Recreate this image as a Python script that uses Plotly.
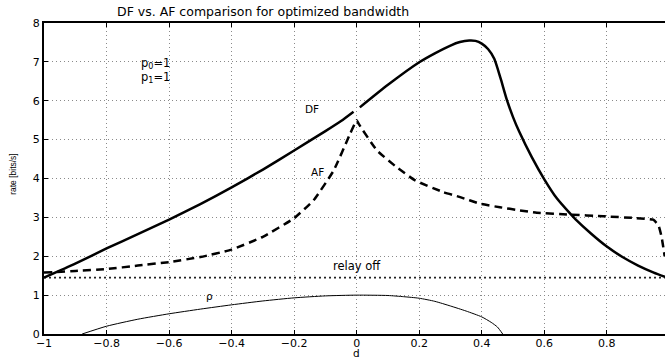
import plotly.graph_objects as go

# ---- data ----
df_left_d = [-1.0, -0.9, -0.8, -0.7, -0.6, -0.5, -0.4, -0.3, -0.2, -0.1, -0.05, -0.01]
df_left_r = [1.45, 1.81, 2.2, 2.57, 2.94, 3.34, 3.77, 4.23, 4.72, 5.22, 5.48, 5.72]

df_right_d = [0.01, 0.1, 0.2, 0.25, 0.3, 0.33, 0.36, 0.38, 0.40, 0.42, 0.44, 0.46, 0.48,
              0.50, 0.52, 0.56, 0.60, 0.64, 0.68, 0.70, 0.75, 0.80, 0.85, 0.90, 0.95, 0.986]
df_right_r = [5.83, 6.41, 6.99, 7.22, 7.42, 7.51, 7.55, 7.54, 7.47, 7.33, 7.08, 6.58, 6.03,
              5.58, 5.20, 4.55, 3.98, 3.49, 3.12, 2.95, 2.58, 2.25, 1.98, 1.76, 1.58, 1.47]

af_d = [-1.0, -0.9, -0.8, -0.7, -0.6, -0.5, -0.4, -0.3, -0.2, -0.138, -0.074, -0.021, 0.0,
        0.006, 0.065, 0.128, 0.187, 0.277, 0.331, 0.395, 0.458, 0.522, 0.576, 0.682,
        0.788, 0.895, 0.948, 0.965, 0.975, 0.985]
af_r = [1.58, 1.62, 1.67, 1.76, 1.85, 1.98, 2.17, 2.5, 2.98, 3.44, 4.2, 5.15, 5.5,
        5.41, 4.72, 4.29, 3.95, 3.65, 3.52, 3.35, 3.26, 3.18, 3.12, 3.07,
        3.03, 2.98, 2.94, 2.8, 2.5, 2.0]

rho_d = [-0.878, -0.8, -0.7, -0.6, -0.5, -0.4, -0.3, -0.2, -0.1, 0.0, 0.1, 0.15, 0.2, 0.25,
         0.3, 0.35, 0.4, 0.43, 0.45, 0.467]
rho_v = [0.0, 0.2, 0.38, 0.52, 0.64, 0.75, 0.85, 0.93, 0.98, 1.0, 0.99, 0.96, 0.92, 0.84,
         0.72, 0.59, 0.44, 0.30, 0.18, 0.0]

relay_off = 1.45
relay_d = [-1.0, 0.986]

x_ticks = [-1, -0.8, -0.6, -0.4, -0.2, 0, 0.2, 0.4, 0.6, 0.8]
y_ticks = [0, 1, 2, 3, 4, 5, 6, 7, 8]

FONT = "DejaVu Sans"

fig = go.Figure()
fig.add_trace(go.Scatter(x=relay_d, y=[relay_off] * len(relay_d), mode="lines",
                         line=dict(color="#222222", width=1.6, dash="2px,3px"), hoverinfo="skip"))
fig.add_trace(go.Scatter(x=rho_d, y=rho_v, mode="lines",
                         line=dict(color="black", width=1, shape="spline", smoothing=0.6)))
fig.add_trace(go.Scatter(x=af_d, y=af_r, mode="lines",
                         line=dict(color="black", width=2.5, dash="8px,5px", shape="spline", smoothing=0.4)))
fig.add_trace(go.Scatter(x=df_left_d, y=df_left_r, mode="lines",
                         line=dict(color="black", width=2.5, shape="spline", smoothing=0.5)))
fig.add_trace(go.Scatter(x=df_right_d, y=df_right_r, mode="lines",
                         line=dict(color="black", width=2.5, shape="spline", smoothing=0.6)))

ann = dict(showarrow=False, font=dict(family=FONT, size=10.5, color="black"), xref="x", yref="y")
fig.add_annotation(x=-0.144, y=5.8, text="DF", **ann)
fig.add_annotation(x=-0.125, y=4.18, text="AF", **ann)
fig.add_annotation(x=0.0, y=1.74, text="relay off", showarrow=False, xref="x", yref="y",
                   font=dict(family=FONT, size=11.5, color="black"))
fig.add_annotation(x=-0.47, y=0.97, text="ρ", **ann)
fig.add_annotation(x=-0.695, y=6.97, text="p<sub>0</sub>=1", xanchor="left",
                   showarrow=False, font=dict(family=FONT, size=11.5, color="black"))
fig.add_annotation(x=-0.695, y=6.6, text="p<sub>1</sub>=1", xanchor="left",
                   showarrow=False, font=dict(family=FONT, size=11.5, color="black"))
fig.add_annotation(x=-0.3, y=1, xref="x", yref="paper", yanchor="bottom", yshift=2,
                   text="DF vs. AF comparison for optimized bandwidth", showarrow=False,
                   font=dict(family=FONT, size=12.5, color="black"))
fig.add_annotation(x=0, y=0, xref="x", yref="paper", yanchor="top", yshift=-11,
                   text="d", showarrow=False, font=dict(family=FONT, size=10.5, color="black"))
fig.add_annotation(x=0, y=0.515, xref="paper", yref="paper", xanchor="center", xshift=-31,
                   textangle=-90, text="rate [bits/s]", showarrow=False,
                   font=dict(family="Liberation Sans", size=8.5, color="black"))

fig.update_layout(
    width=665, height=358,
    margin=dict(l=43.5, r=0, t=22.5, b=24.3),
    plot_bgcolor="white", paper_bgcolor="white",
    showlegend=False,
    font=dict(family=FONT, size=11, color="black"),
)
fig.update_xaxes(range=[-1, 0.986], tickvals=x_ticks, ticks="inside", ticklen=4, tickcolor="black",
                 showline=True, linecolor="black", linewidth=2, mirror="ticks",
                 showgrid=True, gridcolor="#8a8a8a", griddash="1px,3px", gridwidth=1,
                 zeroline=False, tickfont=dict(family=FONT, size=11), ticklabelstandoff=-2)
fig.update_yaxes(range=[0, 8], tickvals=y_ticks, ticks="inside", ticklen=4, tickcolor="black",
                 showline=True, linecolor="black", linewidth=2,
                 showgrid=True, gridcolor="#8a8a8a", griddash="1px,3px", gridwidth=1,
                 zeroline=False, tickfont=dict(family=FONT, size=11))

fig.write_html("out.html")
